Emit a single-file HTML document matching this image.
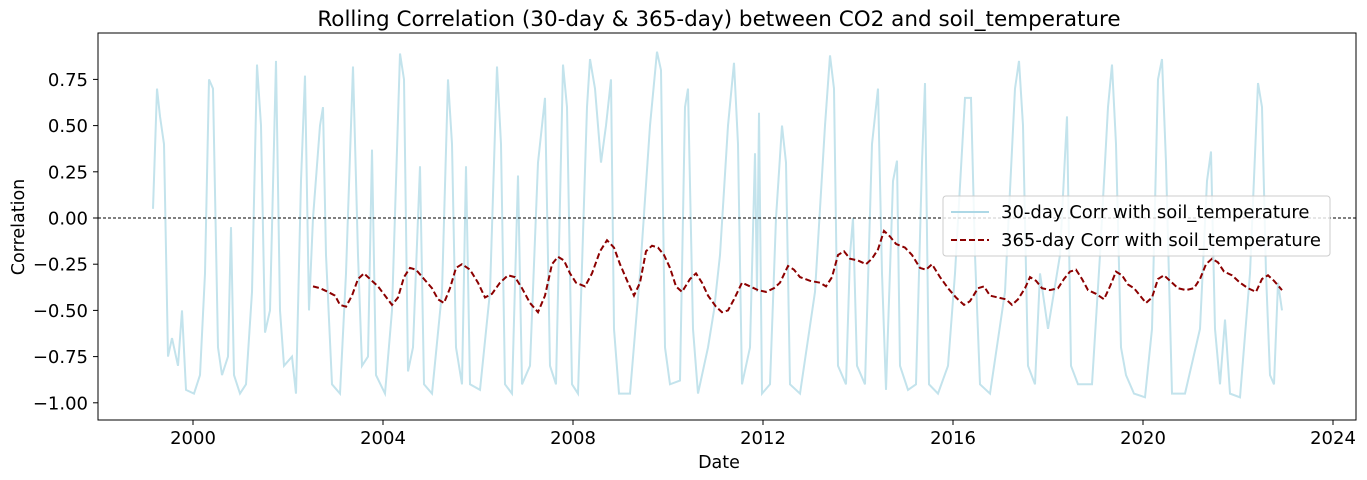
<!DOCTYPE html>
<html><head><meta charset="utf-8"><style>
body{margin:0;background:#fff}
svg{display:block;font-family:"DejaVu Sans","Liberation Sans",sans-serif}
</style></head><body>
<svg id="s" width="1367" height="480" xmlns="http://www.w3.org/2000/svg">
<rect width="1367" height="480" fill="#fff"/>
<text x="719" y="26" font-size="21.5" text-anchor="middle" fill="#000">Rolling Correlation (30-day &amp; 365-day) between CO2 and soil_temperature</text>
<text x="24" y="227" font-size="17.5" text-anchor="middle" transform="rotate(-90 24 227)">Correlation</text>
<text x="719" y="468" font-size="17.5" text-anchor="middle">Date</text>
<g id="yt" font-size="18" text-anchor="end"></g>
<g id="xt" font-size="18" text-anchor="middle"></g>
<polyline id="p30" fill="none" stroke="#c3e3ec" stroke-width="2"/>
<line x1="98" y1="218" x2="1356" y2="218" stroke="#000" stroke-width="0.9" stroke-dasharray="3,2"/>
<polyline id="p365" fill="none" stroke="#8b0000" stroke-width="2" stroke-dasharray="6,3"/>
<rect x="98" y="33" width="1258" height="387" fill="none" stroke="#000" stroke-width="1"/>
<rect x="943" y="196" width="387" height="60" rx="3" fill="#fff" fill-opacity="0.8" stroke="#ccc"/>
<line x1="951" y1="212" x2="989" y2="212" stroke="#add8e6" stroke-width="2"/>
<line x1="951" y1="240" x2="989" y2="240" stroke="#8b0000" stroke-width="2" stroke-dasharray="6,3"/>
<text x="1001" y="218" font-size="18">30-day Corr with soil_temperature</text>
<text x="1001" y="246" font-size="18">365-day Corr with soil_temperature</text>
</svg>
<script>
function Y(v){return 218-184.8*v}
var yt=document.getElementById('yt'),xt=document.getElementById('xt'),s='';
[0.75,0.5,0.25,0,-0.25,-0.5,-0.75,-1].forEach(function(v){var y=Y(v);
s+='<line x1="93" y1="'+y+'" x2="98" y2="'+y+'" stroke="#000"/><text x="88" y="'+(y+6.5)+'">'+(v<0?'\u2212':'')+Math.abs(v).toFixed(2)+'</text>';});
yt.innerHTML=s;s='';
for(var i=0;i<7;i++){var x=193+190*i;s+='<line x1="'+x+'" y1="420" x2="'+x+'" y2="425" stroke="#000"/><text x="'+x+'" y="444">'+(2000+4*i)+'</text>';}
xt.innerHTML=s;
var a=[153,0.05,157,0.7,160,0.55,164,0.4,168,-0.75,172,-0.65,178,-0.8,182,-0.5,186,-0.93,194,-0.95,200,-0.85,205,-0.3,209,0.75,213,0.7,218,-0.7,222,-0.85,228,-0.75,231,-0.05,234,-0.85,240,-0.95,246,-0.9,252,-0.4,257,0.83,261,0.5,265,-0.62,270,-0.5,276,0.85,280,-0.5,284,-0.8,292,-0.75,296,-0.95,301,0.2,305,0.77,309,-0.5,313,0.0,320,0.5,323,0.6,326,-0.2,332,-0.9,340,-0.95,346,-0.3,353,0.82,358,-0.2,362,-0.8,368,-0.75,372,0.37,376,-0.85,385,-0.95,392,-0.5,400,0.89,404,0.75,408,-0.83,413,-0.7,420,0.28,424,-0.9,432,-0.95,442,-0.4,448,0.75,452,0.4,456,-0.7,462,-0.9,466,0.28,470,-0.9,480,-0.93,490,-0.4,497,0.82,501,0.4,505,-0.9,512,-0.95,518,0.23,522,-0.9,530,-0.8,538,0.3,545,0.65,550,-0.8,556,-0.9,563,0.83,567,0.6,572,-0.9,578,-0.95,587,0.6,590,0.86,595,0.7,601,0.3,606,0.5,611,0.75,614,-0.6,619,-0.95,630,-0.95,640,-0.3,650,0.5,657,0.9,661,0.8,665,-0.7,670,-0.9,680,-0.88,685,0.6,688,0.7,693,-0.6,698,-0.95,708,-0.7,714,-0.5,720,-0.2,728,0.5,734,0.84,738,0.4,742,-0.9,750,-0.7,755,0.35,757,-0.4,759,0.57,762,-0.95,770,-0.9,776,0.0,782,0.5,786,0.3,790,-0.9,800,-0.95,815,-0.4,825,0.5,830,0.88,834,0.7,838,-0.8,846,-0.9,850,-0.2,853,0.0,857,-0.8,865,-0.9,872,0.4,878,0.7,882,-0.3,886,-0.93,893,0.2,897,0.31,900,-0.8,908,-0.93,916,-0.9,922,0.3,925,0.73,929,-0.9,938,-0.95,948,-0.8,955,-0.3,965,0.65,971,0.65,975,-0.2,980,-0.9,990,-0.95,1005,-0.4,1015,0.7,1019,0.85,1023,0.5,1028,-0.8,1035,-0.9,1040,-0.3,1048,-0.6,1060,-0.2,1067,0.55,1071,-0.8,1078,-0.9,1092,-0.9,1100,-0.2,1108,0.6,1112,0.83,1116,0.4,1121,-0.7,1126,-0.85,1134,-0.95,1145,-0.97,1152,-0.6,1158,0.75,1162,0.86,1166,0.3,1172,-0.95,1185,-0.95,1200,-0.6,1207,0.2,1211,0.36,1215,-0.6,1220,-0.9,1225,-0.55,1230,-0.95,1240,-0.97,1250,-0.3,1258,0.73,1262,0.6,1266,-0.3,1270,-0.85,1274,-0.9,1278,-0.35,1282,-0.5];
var b=[313,-0.37,320,-0.38,328,-0.4,335,-0.42,340,-0.47,346,-0.48,352,-0.42,358,-0.33,364,-0.3,370,-0.33,378,-0.37,385,-0.42,392,-0.47,398,-0.43,404,-0.32,410,-0.27,416,-0.28,424,-0.33,432,-0.38,438,-0.44,444,-0.46,450,-0.38,456,-0.27,462,-0.25,470,-0.28,478,-0.35,485,-0.43,492,-0.41,500,-0.35,508,-0.31,515,-0.32,522,-0.38,530,-0.46,538,-0.51,545,-0.42,552,-0.25,558,-0.21,564,-0.23,570,-0.3,576,-0.35,585,-0.37,592,-0.3,600,-0.18,607,-0.12,614,-0.16,620,-0.25,628,-0.35,634,-0.42,640,-0.35,646,-0.18,652,-0.15,658,-0.16,664,-0.2,670,-0.27,676,-0.37,682,-0.4,690,-0.33,696,-0.3,702,-0.35,708,-0.42,716,-0.48,722,-0.51,728,-0.5,734,-0.44,742,-0.35,750,-0.37,758,-0.39,766,-0.4,774,-0.38,780,-0.35,788,-0.26,794,-0.28,800,-0.32,810,-0.34,820,-0.35,826,-0.37,832,-0.32,838,-0.2,844,-0.18,850,-0.22,858,-0.23,866,-0.25,872,-0.22,878,-0.17,884,-0.07,890,-0.1,896,-0.14,905,-0.16,912,-0.2,920,-0.27,926,-0.28,932,-0.25,940,-0.32,948,-0.38,956,-0.43,964,-0.47,970,-0.45,978,-0.38,984,-0.37,990,-0.42,998,-0.43,1006,-0.44,1012,-0.47,1018,-0.44,1025,-0.38,1030,-0.32,1036,-0.34,1042,-0.38,1050,-0.39,1058,-0.38,1064,-0.33,1070,-0.29,1076,-0.28,1082,-0.33,1088,-0.39,1096,-0.41,1104,-0.44,1110,-0.37,1116,-0.29,1122,-0.31,1128,-0.36,1134,-0.38,1140,-0.42,1146,-0.46,1152,-0.43,1158,-0.33,1164,-0.31,1170,-0.34,1178,-0.38,1186,-0.39,1194,-0.38,1200,-0.33,1206,-0.25,1212,-0.22,1218,-0.24,1224,-0.29,1232,-0.31,1240,-0.35,1248,-0.38,1256,-0.4,1262,-0.33,1268,-0.31,1274,-0.34,1282,-0.39];
function pts(arr){var r=[];for(var i=0;i<arr.length;i+=2)r.push(arr[i]+','+Y(arr[i+1]).toFixed(1));return r.join(' ');}
document.getElementById('p30').setAttribute('points',pts(a));
document.getElementById('p365').setAttribute('points',pts(b));
</script>
</body></html>
